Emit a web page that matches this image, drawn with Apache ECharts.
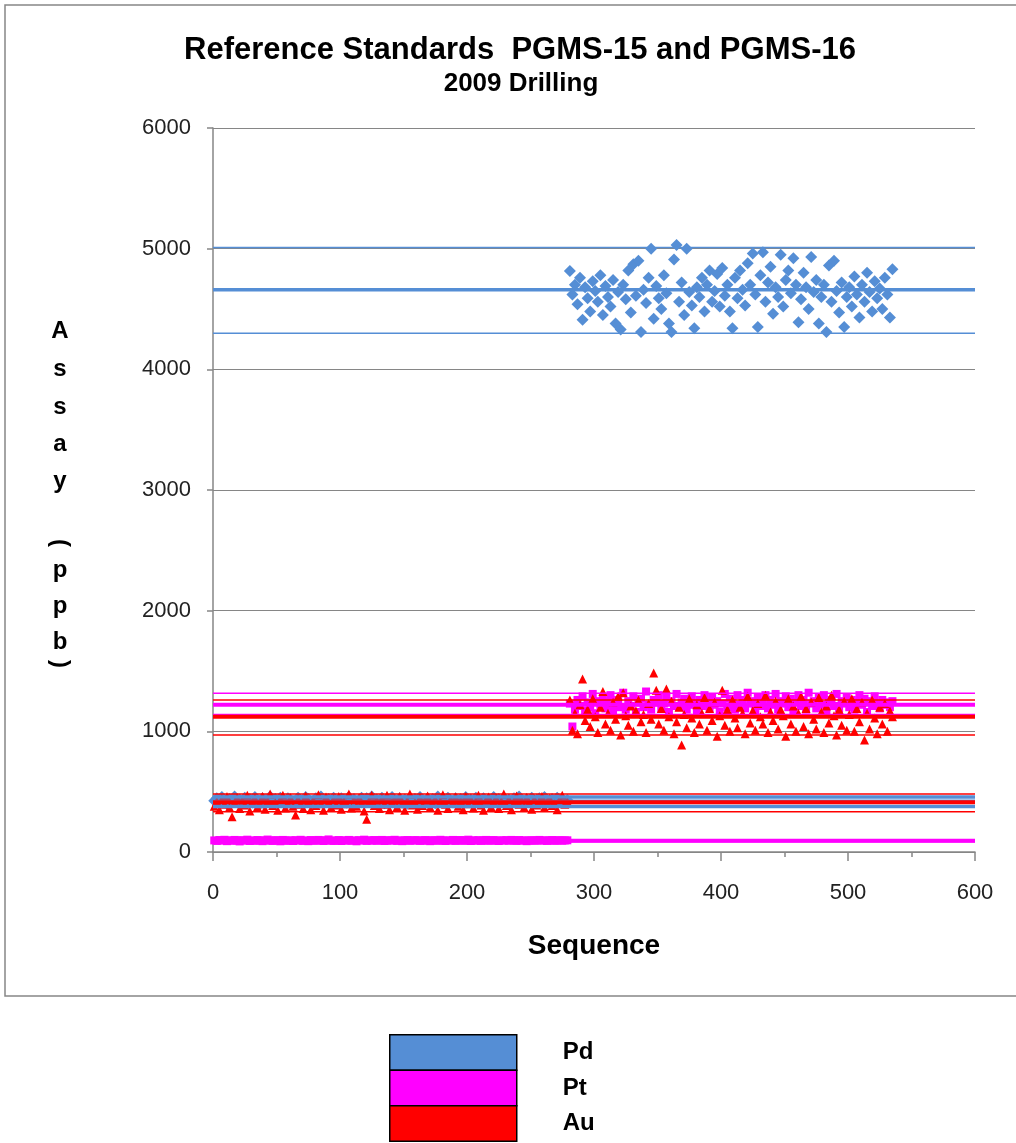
<!DOCTYPE html>
<html><head><meta charset="utf-8">
<script src="https://cdn.jsdelivr.net/npm/echarts@6/dist/echarts.min.js"></script>
<style>html,body{margin:0;padding:0;background:#fff}#c{width:1016px;height:1143px}</style>
</head><body><div id="c"></div><script>
// ---------- DATA ----------
const titleText = 'Reference Standards  PGMS-15 and PGMS-16';
const subtitleText = '2009 Drilling';
const xAxisTitle = 'Sequence';
const yAxisTitle = 'Assay (ppb)';
const seriesNames = ['Pd', 'Pt', 'Au'];

// PGMS-15 samples: sequence 1..279 (every 2nd)
const seq15Start = 1;
// PGMS-16 samples: sequence 281..535 (every 2nd)
const seq16Start = 281;
const seqStep = 2;

const pd15 = [
424,445,410,455,420,400,440,425,460,415,435,405,450,420,440,410,
455,425,400,445,430,415,460,420,440,405,450,425,410,445,435,420,
400,450,430,415,455,440,410,425,445,405,460,430,420,440,415,450,
425,405,445,435,410,455,420,440,400,430,450,415,445,425,460,410,
435,420,450,405,440,430,455,415,425,445,410,435,400,450,420,440,
415,455,430,410,445,425,440,405,460,420,435,415,450,430,410,445,
425,440,400,455,420,435,415,450,430,410,445,425,440,405,455,420,
440,415,450,425,435,405,445,420,460,430,415,440,425,450,410,435,
445,420,455,430,410,440,425,450,415,435,420,430];
const pt15 = [
96,92,99,94,101,90,97,93,100,95,88,98,94,102,91,96,
93,99,95,90,97,103,94,92,98,96,89,100,95,93,97,91,
98,94,101,92,96,90,99,95,93,100,97,91,96,104,94,92,
95,99,91,97,94,100,93,96,89,98,95,102,92,97,94,99,
93,96,100,91,95,98,94,101,92,97,90,96,99,93,95,98,
97,92,95,99,94,90,98,96,93,101,95,91,97,94,100,92,
96,99,93,95,102,91,97,94,98,92,96,100,93,95,99,94,
91,97,95,98,93,100,96,92,99,94,97,90,95,98,93,96,
100,94,97,92,96,99,93,95,98,94,96,97];
const au15 = [
380,420,350,440,395,460,370,293,410,450,360,430,390,470,340,415,
445,375,400,460,355,425,480,385,410,345,435,470,365,400,450,380,
307,440,395,360,465,420,350,430,385,475,400,345,455,410,370,440,
390,460,355,425,400,480,365,435,380,450,410,340,271,420,470,385,
430,360,445,395,470,350,415,440,375,460,400,345,425,480,390,410,
355,450,385,430,465,370,405,440,345,420,475,395,360,435,410,455,
380,425,350,460,400,440,365,415,470,390,345,430,455,375,410,445,
360,420,480,385,440,350,405,465,395,430,370,450,410,355,440,390,
425,460,370,415,445,385,400,350,435,470,395,420];

const pd16 = [
4815,4620,4700,4540,4760,4410,4680,4590,4480,4730,4650,4560,4780,4450,4690,4600,
4520,4740,4380,4640,4330,4700,4580,4820,4470,4870,4610,4900,4310,4660,4550,4760,
5000,4420,4690,4590,4500,4780,4630,4380,4310,4910,5030,4560,4720,4450,5000,4640,
4530,4340,4680,4600,4760,4480,4700,4820,4560,4650,4790,4520,4840,4610,4700,4480,
4340,4760,4590,4820,4660,4530,4880,4700,4960,4620,4350,4780,4970,4560,4720,4850,
4460,4680,4600,4950,4520,4740,4820,4630,4920,4700,4390,4580,4800,4680,4500,4930,
4640,4740,4380,4600,4700,4310,4860,4560,4900,4650,4470,4720,4350,4600,4680,4520,
4770,4620,4430,4700,4560,4800,4640,4480,4730,4590,4670,4500,4760,4620,4430,4830];
const pt16 = [
1230,1040,1180,1260,1210,1290,1170,1240,1200,1310,1150,1250,1220,1280,1190,1240,
1300,1170,1230,1260,1200,1320,1180,1250,1210,1290,1160,1240,1270,1200,1330,1220,
1180,1260,1240,1300,1190,1230,1280,1160,1250,1210,1310,1200,1240,1270,1180,1220,
1290,1230,1170,1260,1210,1300,1240,1190,1280,1220,1250,1160,1230,1310,1200,1270,
1240,1180,1300,1220,1260,1190,1320,1230,1250,1170,1280,1210,1240,1300,1190,1260,
1220,1310,1180,1250,1230,1290,1200,1270,1160,1240,1300,1210,1260,1180,1320,1230,
1250,1190,1280,1220,1300,1170,1240,1260,1210,1310,1190,1250,1230,1280,1200,1260,
1180,1240,1300,1220,1270,1160,1250,1210,1290,1230,1190,1260,1220,1240,1200,1250];
const au16 = [
1260,1010,1150,980,1220,1434,1090,1180,1040,1270,1120,990,1200,1330,1060,1150,
1010,1240,1100,1290,970,1320,1130,1050,1210,1000,1170,1260,1080,1140,990,1230,
1100,1483,1340,1060,1190,1010,1350,1120,1250,980,1080,1200,887,1140,1030,1270,
1110,990,1220,1060,1150,1280,1010,1190,1090,1240,960,1130,1340,1050,1180,1000,
1260,1110,1030,1200,1150,980,1290,1070,1170,1010,1230,1120,1060,1300,990,1160,
1090,1250,1020,1180,1130,960,1270,1060,1210,1000,1150,1290,1040,1190,980,1240,
1100,1020,1280,1160,990,1210,1070,1300,1130,970,1180,1050,1250,1010,1140,1270,
1000,1190,1080,1240,928,1150,1020,1260,1110,980,1200,1060,1230,1000,1170,1120];

// Reference lines [lower, mean, upper]
const pd15Ref = [378, 418, 456];
const pt15Ref = [88, 94, 100];
const au15Ref = [333, 412, 480];
const pd16Ref = [4300, 4660, 5010];
const pt16Ref = [1140, 1221, 1315];
const au16Ref = [970, 1120, 1260];

const xMin = 0, xMax = 600, xInterval = 100;
const yMin = 0, yMax = 6000, yInterval = 1000;

// ---------- CHART ----------
const colors = { Pd: '#558ed5', Pt: '#ff00ff', Au: '#ff0000' };
const FONT = '"Liberation Sans", Arial, sans-serif';

function pts(start, vals) { return vals.map((v, i) => [start + i * seqStep, v]); }

function refLines(name, arr, color, thin, thick) {
  return arr.map((v, i) => ({
    name: name + ' ref ' + i, type: 'line', silent: true, animation: false,
    symbol: 'none', data: [[xMin, v], [xMax, v]],
    lineStyle: { color: color, width: i === 1 ? thick : thin, opacity: 1 }
  }));
}

const series = []
  .concat(refLines('Pd15', pd15Ref, colors.Pd, 3.5, 4))
  .concat(refLines('Pd16', pd16Ref, colors.Pd, 1.5, 3.5))
  .concat(refLines('Pt15', pt15Ref, colors.Pt, 2, 4))
  .concat(refLines('Pt16', pt16Ref, colors.Pt, 1.5, 4))
  .concat(refLines('Au15', au15Ref, colors.Au, 1.5, 4))
  .concat(refLines('Au16', au16Ref, colors.Au, 1.5, 4));

series.push({
  name: 'Pd', type: 'scatter', symbol: 'diamond', symbolSize: 12, animation: false,
  itemStyle: { color: colors.Pd, opacity: 1 },
  data: pts(seq15Start, pd15).concat(pts(seq16Start, pd16))
});
series.push({
  name: 'Pt', type: 'scatter', symbol: 'rect', symbolSize: 8, animation: false,
  itemStyle: { color: colors.Pt, opacity: 1 },
  data: pts(seq15Start, pt15).concat(pts(seq16Start, pt16))
});
series.push({
  name: 'Au', type: 'scatter', symbol: 'triangle', symbolSize: 9, animation: false,
  itemStyle: { color: colors.Au, opacity: 1 },
  data: pts(seq15Start, au15).concat(pts(seq16Start, au16))
});

// vertical stacked y-axis title
const letterY = [331, 369, 407, 444, 481, 543, 570, 606, 642, 664];
const yChars = yAxisTitle.replace(/ /g, '').split('');
const yTitleGraphics = yChars.map((ch, i) => ({
  type: 'text', x: 60, y: letterY[i],
  rotation: (ch === '(' || ch === ')') ? -Math.PI / 2 : 0,
  style: { text: ch, fill: '#000', font: 'bold 24px ' + FONT, textAlign: 'center', textVerticalAlign: 'middle' }
}));

// one legend block per series, stacked
const legendTops = [1034, 1069.5, 1105];
const legends = seriesNames.map((n, i) => ({
  data: [n], orient: 'vertical', left: 389, top: legendTops[i], padding: 0,
  icon: 'rect', itemWidth: 127, itemHeight: 35.5, itemGap: 0,
  itemStyle: { borderColor: '#000', borderWidth: 1.5 },
  textStyle: { fontFamily: FONT, fontWeight: 'bold', fontSize: 24, color: '#000', padding: [0, 0, 0, 41] },
  selectedMode: false
}));

const chart = echarts.init(document.getElementById('c'), null, { renderer: 'canvas' });
chart.setOption({
  animation: false,
  backgroundColor: '#fff',
  title: [
    { text: titleText, left: 515, top: 27, textAlign: 'center',
      textStyle: { fontFamily: FONT, fontWeight: 'bold', fontSize: 31, color: '#000', lineHeight: 36 } },
    { text: subtitleText, left: 516, top: 65, textAlign: 'center',
      textStyle: { fontFamily: FONT, fontWeight: 'bold', fontSize: 26, color: '#000', lineHeight: 28 } }
  ],
  grid: { left: 213, right: 41, top: 128, bottom: 291 },
  legend: legends,
  xAxis: {
    type: 'value', min: xMin, max: xMax, interval: xInterval,
    name: xAxisTitle, nameLocation: 'middle', nameGap: 80,
    nameTextStyle: { fontFamily: FONT, fontWeight: 'bold', fontSize: 28, color: '#000' },
    axisLine: { show: true, onZero: false, lineStyle: { color: '#868686', width: 1.5 } },
    axisTick: { show: true, length: 9, lineStyle: { color: '#868686', width: 1.5 } },
    minorTick: { show: true, splitNumber: 2, length: 5, lineStyle: { color: '#868686', width: 1.5 } },
    splitLine: { show: false },
    axisLabel: { fontFamily: FONT, fontSize: 22, color: '#222', margin: 30,
      formatter: v => String(v) }
  },
  yAxis: {
    type: 'value', min: yMin, max: yMax, interval: yInterval,
    axisLine: { show: true, lineStyle: { color: '#868686', width: 1.5 } },
    axisTick: { show: true, length: 6, lineStyle: { color: '#868686', width: 1.5 } },
    splitLine: { show: true, lineStyle: { color: '#868686', width: 1.2 } },
    axisLabel: { fontFamily: FONT, fontSize: 22, color: '#222', margin: 22,
      formatter: v => String(v) }
  },
  graphic: [
    { type: 'rect', shape: { x: 5, y: 5, width: 1030, height: 991 }, silent: true,
      style: { fill: 'none', stroke: '#868686', lineWidth: 1.5 } }
  ].concat(yTitleGraphics),
  series: series
});
</script></body></html>
